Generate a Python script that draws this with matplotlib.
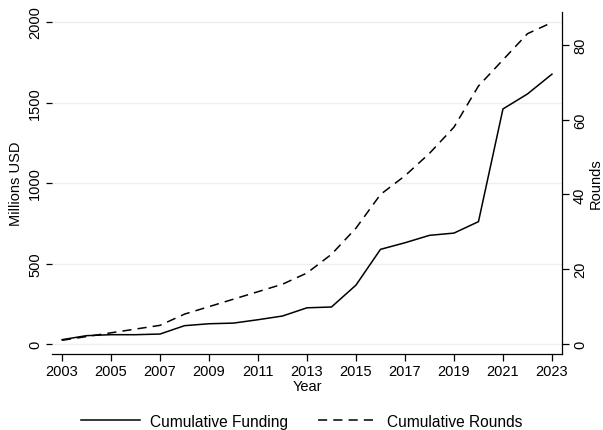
import matplotlib
matplotlib.use("Agg")
import matplotlib.pyplot as plt
from matplotlib.lines import Line2D

plt.rcParams['font.family'] = ['Liberation Sans', 'DejaVu Sans']

years = list(range(2003, 2024))
funding = [27, 52, 58, 58, 62, 114, 126, 130, 151, 174, 225, 230, 366,
           588, 629, 675, 689, 760, 1460, 1553, 1676]
rounds = [1, 2, 3, 4, 5, 8, 10, 12, 14, 16, 19, 24, 31,
          40, 45, 51, 58, 69, 76, 83, 86]

left_ticks = [0, 500, 1000, 1500, 2000]
right_ticks = [0, 20, 40, 60, 80]
x_ticks = list(range(2003, 2024, 2))

fig = plt.figure(figsize=(6.03, 4.31), dpi=100)
ax = fig.add_axes([0.0862, 0.1763, 0.8458, 0.7935])
ax2 = ax.twinx()

fs = 10.5
grid_col = '#e9f1f2'

for y in left_ticks:
    ax.axhline(y, color=grid_col, lw=1.0, zorder=0)

ax.plot(years, funding, color='black', lw=1.1, solid_joinstyle='miter', zorder=3)
ax2.plot(years, rounds, color='black', lw=1.1, dashes=(6, 4), zorder=3)

ax.set_xlim(2002.59, 2023.41)
ax.set_ylim(-62, 2062)
ax2.set_ylim(-2.67, 88.8)

ax.set_xticks(x_ticks)
ax.set_yticks(left_ticks)
ax2.set_yticks(right_ticks)

for a in (ax, ax2):
    a.spines['top'].set_visible(False)
    a.spines['left'].set_visible(False)
ax.spines['right'].set_visible(False)
ax2.spines['bottom'].set_visible(False)
ax.spines['bottom'].set_linewidth(0.9)
ax2.spines['right'].set_linewidth(0.9)

ax.tick_params(axis='x', direction='out', length=5, width=0.9, labelsize=fs, pad=2)
ax.tick_params(axis='y', direction='out', length=4, width=0.9, labelsize=fs, pad=3)
ax2.tick_params(axis='y', direction='out', length=5, width=0.9, labelsize=fs, pad=3)
for lab in ax.get_yticklabels():
    lab.set_rotation(90)
    lab.set_va('center')
for lab in ax2.get_yticklabels():
    lab.set_rotation(90)
    lab.set_va('center')

ax.set_xlabel('Year', fontsize=fs, labelpad=1)
ax.set_ylabel('Millions USD', fontsize=fs, labelpad=4)
ax2.set_ylabel('Rounds', fontsize=fs, labelpad=1)

handles = [Line2D([], [], color='black', lw=1.1),
           Line2D([], [], color='black', lw=1.1, dashes=(6, 4))]
fig.legend(handles, ['Cumulative Funding', 'Cumulative Rounds'],
           loc='center', bbox_to_anchor=(0.5, 0.02), ncol=2, frameon=False,
           fontsize=11.2, handlelength=3.8, columnspacing=1.9, handletextpad=0.65)

fig.savefig('out.png', dpi=100, facecolor='white')
